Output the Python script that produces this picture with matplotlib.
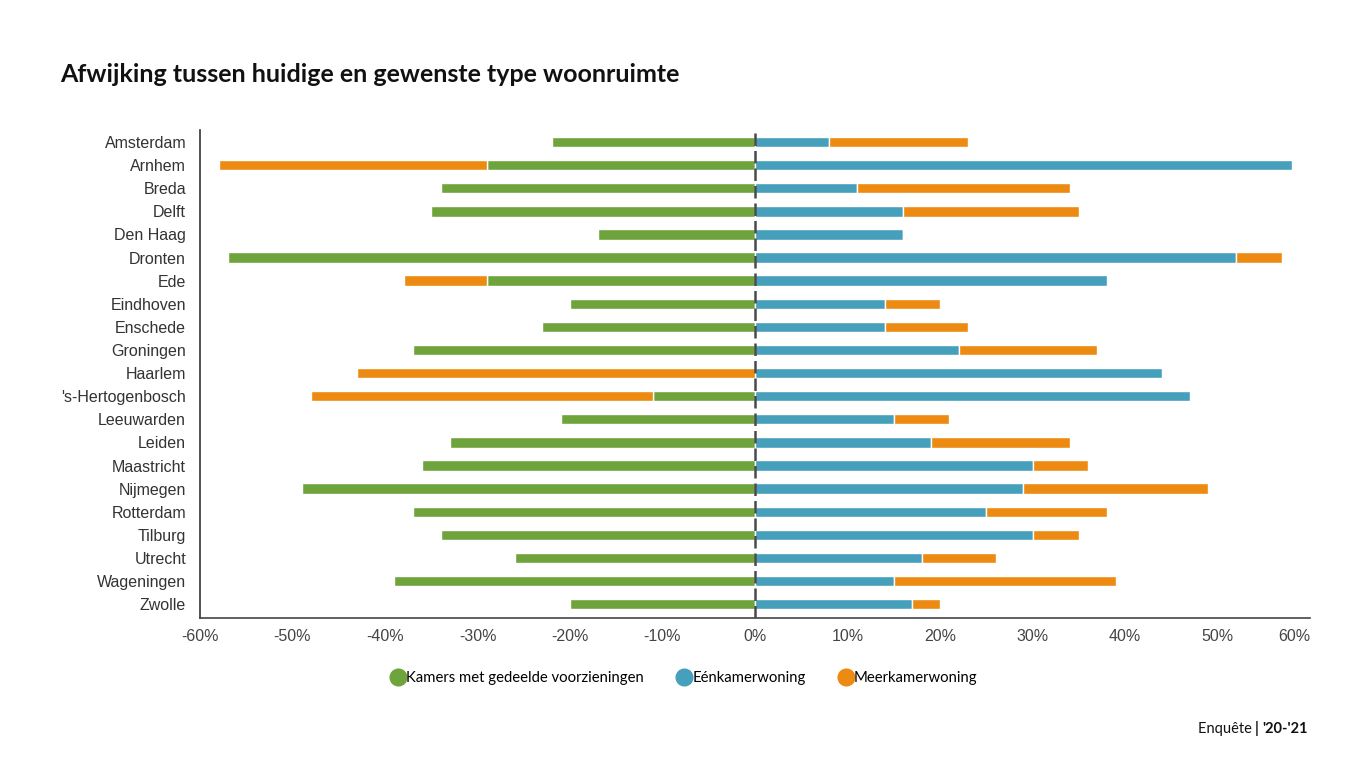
import matplotlib
matplotlib.use("Agg")
import matplotlib.pyplot as plt
import numpy as np
from matplotlib.lines import Line2D

cities = ["Amsterdam", "Arnhem", "Breda", "Delft", "Den Haag", "Dronten", "Ede",
          "Eindhoven", "Enschede", "Groningen", "Haarlem", "'s-Hertogenbosch",
          "Leeuwarden", "Leiden", "Maastricht", "Nijmegen", "Rotterdam", "Tilburg",
          "Utrecht", "Wageningen", "Zwolle"]
kamers = [-22, -29, -34, -35, -17, -57, -29, -20, -23, -37, 0, -11,
          -21, -33, -36, -49, -37, -34, -26, -39, -20]
eenkamer = [8, 58, 11, 16, 16, 52, 38, 14, 14, 22, 44, 47,
            15, 19, 30, 29, 25, 30, 18, 15, 17]
meerkamer = [15, -29, 23, 19, 0, 5, -9, 6, 9, 15, -43, -37,
             6, 15, 6, 20, 13, 5, 8, 24, 3]
xticks = [-60, -50, -40, -30, -20, -10, 0, 10, 20, 30, 40, 50, 60]
series_names = ["Kamers met gedeelde voorzieningen", "Eénkamerwoning", "Meerkamerwoning"]

GREEN = "#6fa33c"
BLUE = "#46a0bc"
ORANGE = "#ec8a11"

fig = plt.figure(figsize=(13.51, 7.62), dpi=100)
ax = fig.add_axes([200/1351, 1-618/762, 1110/1351, 488/762])

y = np.arange(len(cities))
k = np.array(kamers, float)
e = np.array(eenkamer, float)
m = np.array(meerkamer, float)
h = 0.45
kw = dict(height=h, edgecolor="white", linewidth=1.0, zorder=2)
ax.barh(y, k, color=GREEN, **kw)
ax.barh(y, e, color=BLUE, **kw)
m_left = np.where(m < 0, k, e)
ax.barh(y, m, left=m_left, color=ORANGE, **kw)

ax.axvline(0, color="#4a4a4a", lw=1.8, ls=(0, (5, 2)), zorder=3)

ax.set_xlim(-60, 60)
ax.set_ylim(len(cities) - 0.4, -0.52)
ax.set_yticks(y)
ax.set_yticklabels(cities, family="Liberation Sans", fontsize=11.5, color="#333333")
ax.set_xticks(xticks)
ax.set_xticklabels([f"{t}%" for t in xticks], family="Liberation Sans", fontsize=11.5,
                   color="#444444")
ax.get_xticklabels()[-1].set_ha("right")
ax.get_xticklabels()[-1].set_x(60.3)
ax.tick_params(axis="y", length=0, pad=10)
ax.tick_params(axis="x", length=0, pad=8)
for s in ["top", "right"]:
    ax.spines[s].set_visible(False)
ax.spines["left"].set_color("#333333")
ax.spines["bottom"].set_color("#444444")
ax.spines["left"].set_linewidth(1.2)
ax.spines["bottom"].set_linewidth(1.2)

fig.text(60/1351, 1-75/762, "Afwijking tussen huidige en gewenste type woonruimte",
         family="Lato", fontweight="bold", fontsize=18, ha="left", va="center",
         color="#111111")

handles = [Line2D([], [], marker="o", ls="", markersize=12, color=c)
           for c in (GREEN, BLUE, ORANGE)]
fig.legend(handles, series_names, loc="center", bbox_to_anchor=(684/1351, 1-678/762),
           ncol=3, frameon=False, prop=dict(family="Lato", size=10.7),
           handletextpad=0.05, columnspacing=2.2, handlelength=1.0)

t2 = fig.text(1308/1351, 1-729/762, "'20-'21", family="Lato", fontweight="bold",
              fontsize=10.5, ha="right", va="center", color="#111111")
fig.canvas.draw()
bb = t2.get_window_extent()
t3 = fig.text(bb.x0/1351, 1-729/762, "| ", family="Lato", fontweight="bold",
              fontsize=10.5, ha="right", va="center", color="#111111")
fig.canvas.draw()
bb3 = t3.get_window_extent()
fig.text(bb3.x0/1351, 1-729/762, "Enquête ", family="Lato", fontsize=10.5,
         ha="right", va="center", color="#111111")

fig.savefig("out.png", dpi=100)
